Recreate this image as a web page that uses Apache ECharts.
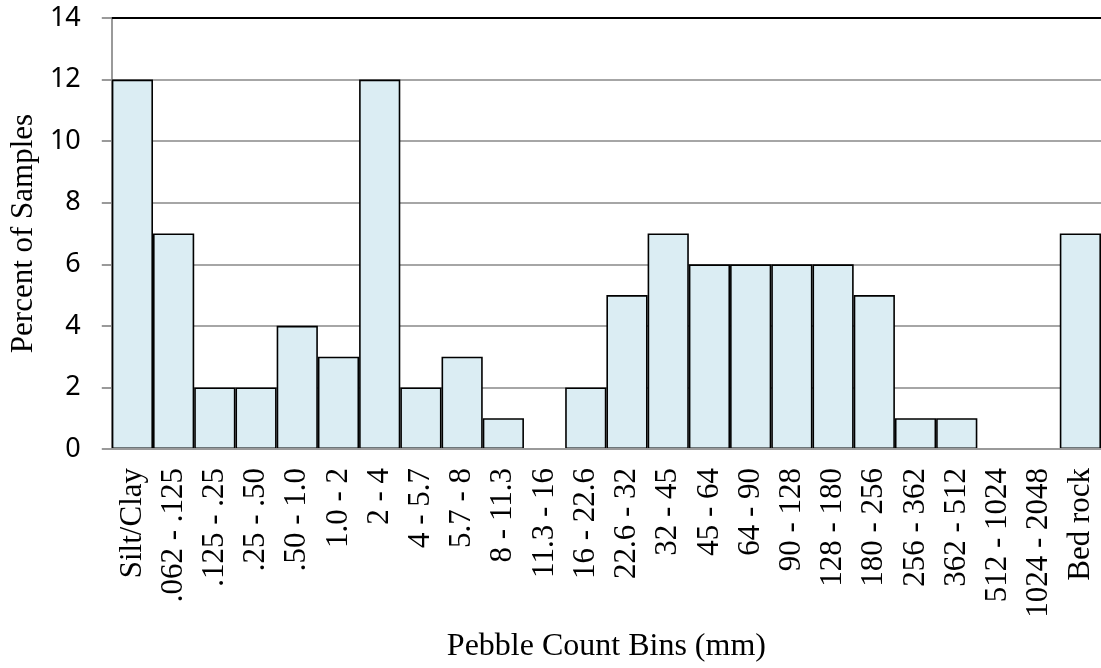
<!DOCTYPE html>
<html>
<head>
<meta charset="utf-8">
<script src="https://cdn.jsdelivr.net/npm/echarts@6/dist/echarts.min.js"></script>
<style>
  html, body { margin: 0; padding: 0; background: #fff; }
  #chart { width: 1101px; height: 668px; }
</style>
</head>
<body>
<div id="chart"></div>
<script>
// Pebble count size bins (mm)
const bins = [
  'Silt/Clay', '.062 - .125', '.125 - .25', '.25 - .50', '.50 - 1.0', '1.0 - 2',
  '2 - 4', '4 - 5.7', '5.7 - 8', '8 - 11.3', '11.3 - 16', '16 - 22.6',
  '22.6 - 32', '32 - 45', '45 - 64', '64 - 90', '90 - 128', '128 - 180',
  '180 - 256', '256 - 362', '362 - 512', '512 - 1024', '1024 - 2048', 'Bed rock'
];
// Share of samples falling in each bin (%)
const percentOfSamples = [
  12, 7, 2, 2, 4, 3, 12, 2, 3, 1, 0, 2,
  5, 7, 6, 6, 6, 6, 5, 1, 1, 0, 0, 7
];
const yTicks = { min: 0, max: 14, interval: 2 };

const serif = '"Liberation Serif", "Times New Roman", serif';
const sans = '"Noto Sans", "Open Sans", sans-serif';

// empty bins get no outline so the baseline stays plain
const barData = percentOfSamples.map(v => ({
  value: v,
  itemStyle: v === 0 ? { borderWidth: 0 } : undefined
}));

const chart = echarts.init(document.getElementById('chart'), null, { renderer: 'canvas' });
chart.setOption({
  animation: false,
  backgroundColor: '#ffffff',
  grid: { left: 111, right: -3, top: 18, bottom: 217, containLabel: false },
  xAxis: [
    {
      type: 'category',
      data: bins,
      position: 'bottom',
      z: 5,
      axisLine: { show: true, lineStyle: { color: '#9a9a9a', width: 2 } },
      axisTick: { show: false },
      axisLabel: {
        interval: 0,
        rotate: 90,
        margin: 19,
        color: '#000',
        fontFamily: serif,
        fontSize: 31
      },
      name: 'Pebble Count Bins (mm)',
      nameLocation: 'middle',
      nameGap: 182,
      nameTextStyle: { color: '#000', fontFamily: serif, fontSize: 32 }
    },
    {
      // closing frame line along the top of the plot
      type: 'category',
      data: bins,
      position: 'top',
      axisLine: { show: true, lineStyle: { color: '#000', width: 2 } },
      axisTick: { show: false },
      axisLabel: { show: false },
      splitLine: { show: false }
    }
  ],
  yAxis: {
    type: 'value',
    min: yTicks.min,
    max: yTicks.max,
    interval: yTicks.interval,
    axisLine: { show: true, lineStyle: { color: '#9a9a9a', width: 2 } },
    axisTick: { show: true, inside: false, length: 10, lineStyle: { color: '#9a9a9a', width: 2 } },
    splitLine: { show: true, lineStyle: { color: '#a6a6a6', width: 2 } },
    axisLabel: {
      margin: 31,
      color: '#000',
      fontFamily: sans,
      fontSize: 27
    },
    name: 'Percent of Samples',
    nameLocation: 'middle',
    nameGap: 72,
    nameRotate: 90,
    nameTextStyle: { color: '#000', fontFamily: serif, fontSize: 31 }
  },
  series: [{
    type: 'bar',
    data: barData,
    barCategoryGap: '0%',
    itemStyle: {
      color: '#dbedf3',
      borderColor: '#000',
      borderWidth: 1.6
    },
    emphasis: { disabled: true }
  }]
});
</script>
</body>
</html>
